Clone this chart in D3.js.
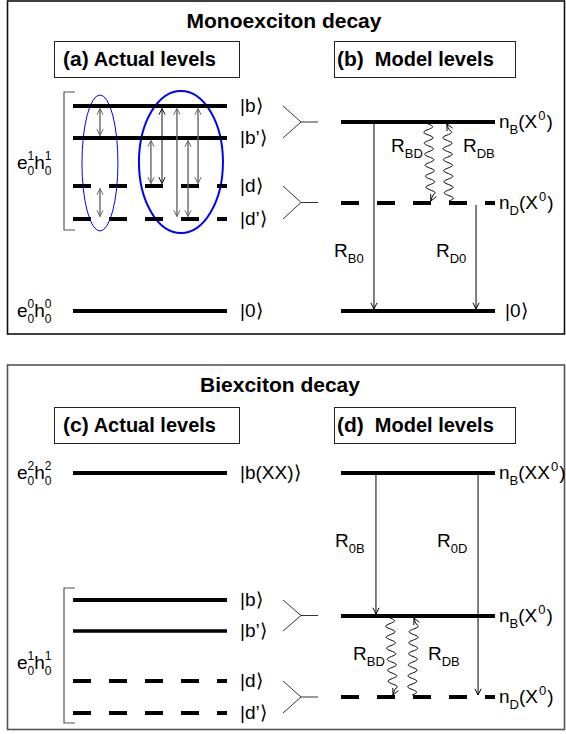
<!DOCTYPE html>
<html><head><meta charset="utf-8">
<script src="https://cdn.jsdelivr.net/npm/d3@7"></script>
<style>
body{margin:0;background:#fff}
text{font-family:"Liberation Sans",Arial,Helvetica,sans-serif;fill:#000}
</style>
</head><body>
<svg id="c" width="566" height="734"></svg>
<script>
// ---------------- data ----------------
const titles = ["Monoexciton decay", "Biexciton decay"];
const boxTags = ["(a)", "(b)", "(c)", "(d)"];
const boxNames = ["Actual levels", "Model levels", "Actual levels", "Model levels"];

// energies (arbitrary units) of the levels
const monoActual = [
  {id:"b",  ket:"|b⟩",  E:205, kind:"bright"},
  {id:"b'", ket:"|b’⟩", E:173, kind:"bright"},
  {id:"d",  ket:"|d⟩",  E:125, kind:"dark"},
  {id:"d'", ket:"|d’⟩", E:92,  kind:"dark"},
  {id:"0",  ket:"|0⟩",  E:0,   kind:"bright"}
];
const monoModel = [
  {id:"nB", n:"B", x:"X",  E:189, kind:"bright"},
  {id:"nD", n:"D", x:"X",  E:108, kind:"dark"},
  {id:"0",  ket:"|0⟩",     E:0,   kind:"bright"}
];
const biActual = [
  {id:"XX", ket:"|b(XX)⟩", E:256, kind:"bright"},
  {id:"b",  ket:"|b⟩",     E:129, kind:"bright"},
  {id:"b'", ket:"|b’⟩",    E:98,  kind:"brightThin"},
  {id:"d",  ket:"|d⟩",     E:48,  kind:"dark"},
  {id:"d'", ket:"|d’⟩",    E:16,  kind:"dark"}
];
const biModel = [
  {id:"nXX", n:"B", x:"XX", E:256, kind:"bright"},
  {id:"nB",  n:"B", x:"X",  E:113, kind:"bright"},
  {id:"nD",  n:"D", x:"X",  E:32,  kind:"dark"}
];
// configuration labels e0^k h0^k : superscript and energy of label
const monoConfigs = [{sup:"1", E:148}, {sup:"0", E:0}];
const biConfigs   = [{sup:"2", E:256}, {sup:"1", E:66}];
// bracket spans (energies)
const monoBracket = [81, 219];
const biBracket = [6, 141];
// double-headed relaxation arrows among actual levels: [pos %, from, to, dark?]
const monoActualArrows = [
  [17.5, "b", "b'", false], [17.5, "d", "d'", false],
  [50.6, "b'", "d", false], [57.8, "b", "d", true],
  [67.5, "b", "d'", false], [74.7, "b'", "d'", false], [81.2, "b", "d", false]
];
// ellipses : [center pos %, center energy, rx, ry, heavy]
const monoEllipses = [[17.5, 148, 18, 68, false], [70.1, 149, 42, 71, true]];
// radiative arrows in model : [pos %, from, to]
const monoRates = [[21.4, "nB", "0"], [87.7, "nD", "0"]];
const biRates   = [[22.7, "nXX", "nB"], [89.0, "nXX", "nD"]];
// wavy transfer arrows : [start pos %, end pos %, from, to]
const monoWaves = [[56.5, 58.4, "nB", "nD"], [70.1, 68.8, "nD", "nB"]];
const biWaves   = [[31.8, 33.8, "nB", "nD"], [46.1, 47.4, "nD", "nB"]];
// rate labels: [x, energy, text, subscript]
const monoRateLabels = [[334, 54, "R","B0"], [436, 54, "R","D0"], [391, 159, "R","BD"], [463, 159, "R","DB"]];
const biRateLabels   = [[335, 182, "R","0B"], [437, 182, "R","0D"], [353, 69, "R","BD"], [428, 69, "R","DB"]];
// connectors actual pair -> model level
const monoLinks = [["b","b'"], ["d","d'"]];
const biLinks = [["b","b'"], ["d","d'"]];

// ---------------- drawing ----------------
const svg = d3.select("#c");
const yMono = d3.scaleLinear().domain([0, 205]).range([311, 106]);
const yBi   = d3.scaleLinear().domain([0, 256]).range([729, 473]);
const xA = d3.scaleLinear().domain([0, 100]).range([73, 227]);
const xM = d3.scaleLinear().domain([0, 100]).range([341, 495]);

function rich(g, x, y, parts) {
  let cx = x, pend = 0;
  parts.forEach(p => {
    const t = g.append("text").attr("x", cx).attr("y", y + (p.dy || 0))
      .attr("font-size", p.size || 19).attr("font-weight", p.bold ? "bold" : null).text(p.t);
    const w = t.node().getComputedTextLength();
    if (p.stack) pend = Math.max(pend, w);
    else { cx += Math.max(w, pend) + (p.gap || 0); pend = 0; }
  });
}
function levelLine(g, x0, x1, y, kind) {
  g.append("line").attr("x1", x0).attr("x2", x1).attr("y1", y).attr("y2", y)
    .attr("stroke", "#000")
    .attr("stroke-width", kind === "brightThin" ? 3.3 : 4.2)
    .attr("stroke-dasharray", kind === "dark" ? "18,18" : null);
}
function head(g, x, y, ang, color) {
  const L = 7, a = 0.46;
  const p1 = [x - L * Math.cos(ang - a), y - L * Math.sin(ang - a)];
  const p2 = [x - L * Math.cos(ang + a), y - L * Math.sin(ang + a)];
  g.append("path").attr("d", `M${p1}L${x},${y}L${p2}`).attr("fill", "none")
    .attr("stroke", color).attr("stroke-width", 1);
}
function vArrow(g, x, y0, y1, color, w, dbl) {
  g.append("line").attr("x1", x).attr("x2", x).attr("y1", y0).attr("y2", y1)
    .attr("stroke", color).attr("stroke-width", w);
  const dir = y1 > y0 ? Math.PI / 2 : -Math.PI / 2;
  head(g, x, y1, dir, color);
  if (dbl) head(g, x, y0, -dir, color);
}
function wave(g, x0, y0, x1, y1) {
  const L = Math.abs(y1 - y0), s = Math.sign(y1 - y0), pts = [];
  const stop = L - 7;
  for (let t = 0; t <= stop; t += 0.5) {
    pts.push([x0 + (x1 - x0) * t / L + 4.5 * Math.sin(2 * Math.PI * t / 11), y0 + s * t]);
  }
  pts.push([x1, y1]);
  g.append("path").attr("d", d3.line().curve(d3.curveMonotoneY)(pts)).attr("fill", "none")
    .attr("stroke", "#000").attr("stroke-width", 1);
  const a = pts[pts.length - 2];
  head(g, x1, y1, Math.atan2(y1 - a[1], x1 - a[0]), "#000");
}
function ketLabel(g, x, y, s) {
  g.append("text").attr("x", x).attr("y", y + 6).attr("font-size", 19).text(s);
}
function modelLabel(g, x, y, n, X) {
  rich(g, x, y + 6, [
    {t: "n"}, {t: n, size: 13, dy: 6}, {t: "(" + X, gap: 1}, {t: "0", size: 13, dy: -8, gap: 1}, {t: ")"}
  ]);
}
function configLabel(g, x, y, sup) {
  rich(g, x, y, [
    {t: "e"}, {t: sup, size: 12, dy: -9, stack: true}, {t: "0", size: 12, dy: 6},
    {t: "h"}, {t: sup, size: 12, dy: -9, stack: true}, {t: "0", size: 12, dy: 6}
  ]);
}

function panel(cfg) {
  const g = svg.append("g");
  const {y, actual, model, top, bottom, idx} = cfg;
  g.append("rect").attr("x", 7.5).attr("y", top).attr("width", 557).attr("height", bottom - top)
    .attr("fill", "none").attr("stroke", cfg.border).attr("stroke-width", 1.6);
  g.append("text").attr("x", cfg.titleX).attr("y", cfg.titleY).attr("text-anchor", "middle")
    .attr("font-size", 21).attr("font-weight", "bold").text(cfg.title);
  // boxes
  [[54, 239, idx], [334, 515, idx + 1]].forEach(([bx0, bx1, k], j) => {
    g.append("rect").attr("x", bx0 + .5).attr("y", cfg.boxY + .5).attr("width", bx1 - bx0).attr("height", 36)
      .attr("fill", "none").attr("stroke", "#222").attr("stroke-width", 1);
    rich(g, j === 0 ? bx0 + 9 : bx0 + 3, cfg.boxY + 25, [
      {t: boxTags[k], size: 21, bold: true, gap: j === 0 ? 5 : 11},
      {t: boxNames[k], size: 20, bold: true}
    ]);
  });
  const byId = {}; actual.forEach(d => byId[d.id] = d);
  const mById = {}; model.forEach(d => mById[d.id] = d);
  // ellipses
  (cfg.ellipses || []).forEach(([p, E, rx, ry, heavy]) => {
    g.append("ellipse").attr("cx", xA(p)).attr("cy", y(E)).attr("rx", rx).attr("ry", ry)
      .attr("fill", "none").attr("stroke", "#0000ff").attr("stroke-width", heavy ? 2 : 1);
  });
  // actual levels
  actual.forEach(d => {
    levelLine(g, xA(0), xA(100), y(d.E), d.kind);
    ketLabel(g, 240, y(d.E), d.ket);
  });
  // arrows among actual levels
  (cfg.aArrows || []).forEach(([p, f, t, dark]) => {
    const y0 = y(byId[f].E) + 2.5, y1 = y(byId[t].E) - 2.5;
    vArrow(g, xA(p), y0, y1, dark ? "#111" : "#666", dark ? 1 : 1.4, true);
  });
  // bracket
  const [b0, b1] = cfg.bracket;
  g.append("path").attr("d", `M75,${y(b1)}H64V${y(b0)}H75`).attr("fill", "none")
    .attr("stroke", "#555").attr("stroke-width", 1.2);
  cfg.configs.forEach(c => configLabel(g, 17, y(c.E) + 6, c.sup));
  // connectors
  cfg.links.forEach(([a, b]) => {
    const ya = y(byId[a].E), yb = y(byId[b].E), ym = (ya + yb) / 2;
    g.append("path").attr("d", `M283,${ya}L301,${ym}L283,${yb}M301,${ym}H318`)
      .attr("fill", "none").attr("stroke", "#333").attr("stroke-width", 1);
  });
  // model levels
  model.forEach(d => {
    levelLine(g, xM(0), xM(100), y(d.E), d.kind);
    if (d.ket) ketLabel(g, 505, y(d.E), d.ket);
    else modelLabel(g, 499, y(d.E), d.n, d.x);
  });
  cfg.rates.forEach(([p, f, t]) => {
    vArrow(g, xM(p), y(mById[f].E) + 2, y(mById[t].E) - 2, "#000", 1, false);
  });
  cfg.waves.forEach(([p0, p1, f, t]) => {
    const s = mById[t].E < mById[f].E ? 1 : -1;
    wave(g, xM(p0), y(mById[f].E) + 2 * s, xM(p1), y(mById[t].E) - 2 * s);
  });
  cfg.rateLabels.forEach(([x, E, t, sub]) => {
    rich(g, x, y(E), [{t: t}, {t: sub, size: 13, dy: 6}]);
  });
}

panel({y: yMono, actual: monoActual, model: monoModel, top: 1, bottom: 334, idx: 0,
  border: "#111", title: titles[0], titleX: 284, titleY: 28, boxY: 41,
  ellipses: monoEllipses, aArrows: monoActualArrows, bracket: monoBracket,
  configs: monoConfigs, links: monoLinks,
  rates: monoRates, waves: monoWaves, rateLabels: monoRateLabels});
panel({y: yBi, actual: biActual, model: biModel, top: 365, bottom: 729.5, idx: 2,
  border: "#555", title: titles[1], titleX: 280, titleY: 392, boxY: 407,
  ellipses: [], aArrows: [], bracket: biBracket,
  configs: biConfigs, links: biLinks,
  rates: biRates, waves: biWaves, rateLabels: biRateLabels});
</script>
</body></html>
